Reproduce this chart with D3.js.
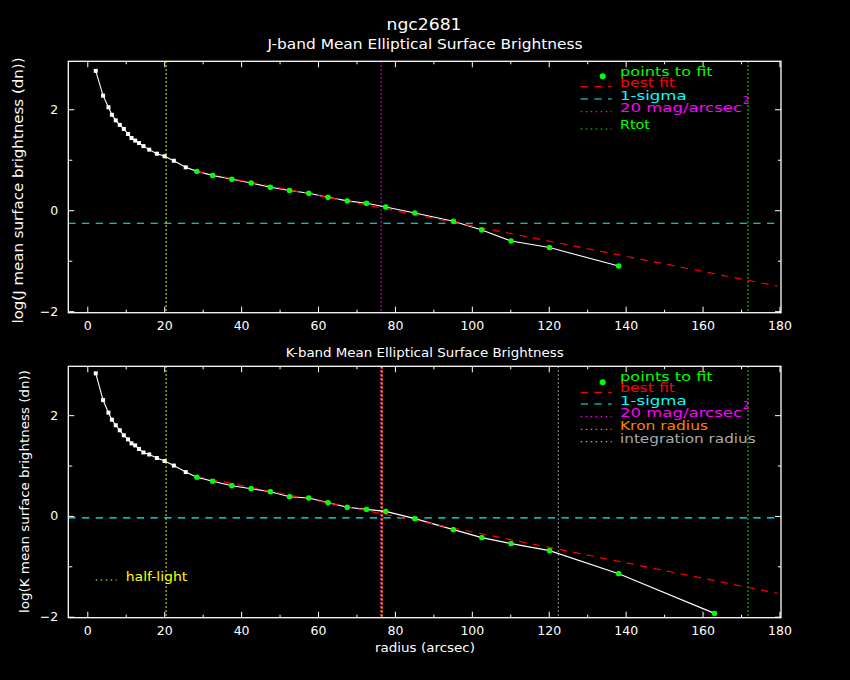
<!DOCTYPE html>
<html><head><meta charset="utf-8">
<script src="https://cdn.jsdelivr.net/npm/d3@7"></script>
<style>
body{margin:0;background:#000}
svg{display:block}
text{font-family:"DejaVu Sans",sans-serif}
</style>
</head><body>
<svg id="c" width="850" height="680"></svg>
<script>
// ---------------- data ----------------
const radius = [2.2, 4.1, 5.5, 6.4, 7.4, 8.45, 9.5, 10.6, 11.5, 12.45, 13.45, 14.6, 16.1, 18.1, 20.1, 22.5, 25.6,
  28.5, 32.6, 37.6, 42.6, 47.6, 52.6, 57.6, 62.6, 67.6, 72.6, 77.6, 85.2, 95.2, 102.6, 110.2, 120.2, 138.2, 163.1];
const jValues = [2.76, 2.27, 2.04, 1.89, 1.78, 1.69, 1.61, 1.51, 1.43, 1.38, 1.33, 1.27, 1.20, 1.12, 1.07, 0.98, 0.85,
  0.77, 0.69, 0.615, 0.54, 0.455, 0.39, 0.335, 0.258, 0.185, 0.139, 0.065, -0.054, -0.218, -0.39, -0.61, -0.74, -1.105];
const kValues = [2.83, 2.30, 2.05, 1.91, 1.80, 1.70, 1.60, 1.52, 1.44, 1.40, 1.33, 1.26, 1.22, 1.15, 1.09, 1.00, 0.87,
  0.77, 0.69, 0.60, 0.54, 0.48, 0.38, 0.357, 0.264, 0.171, 0.131, 0.091, -0.054, -0.272, -0.431, -0.55, -0.689, -1.146, -1.934];
const fitFromIndex = 17;

const jFitR = [28.5, 179.5];
const jFitV = [0.765, -1.505];
const kFitR = [28.5, 179.5];
const kFitV = [0.782, -1.535];

const jSigma = -0.258;
const kSigma = -0.04;

const jVLineR = [20.5, 76.4, 171.8];
const jVLineKind = ["half", "mag20", "rtot"];
const kVLineR = [20.5, 76.3, 76.6, 122.5, 171.8];
const kVLineKind = ["half", "mag20", "kron", "integ", "rtot"];

const xDomain = [-4.94, 180.4];
const jYDomain = [-2.03, 2.95];
const kYDomain = [-2.02, 2.97];
const xMajorTicks = [0, 20, 40, 60, 80, 100, 120, 140, 160, 180];
const xMinorTicks = [10, 30, 50, 70, 90, 110, 130, 150, 170];
const yMajorTicks = [-2, 0, 2];
const yMinorTicks = [-1, 1];

const title = "ngc2681";
const jTitle = "J-band Mean Elliptical Surface Brightness";
const kTitle = "K-band Mean Elliptical Surface Brightness";
const jYLabel = "log(J mean surface brightness (dn))";
const kYLabel = "log(K mean surface brightness (dn))";
const xLabel = "radius (arcsec)";

// ---------------- styles ----------------
const col = {
  half: "#ffff00", mag20: "#ff00ff", rtot: "#00ff00", kron: "#ff8000", integ: "#aaaaaa",
  fit: "#ff0000", sigma: "#00ffff", pts: "#00ff00", white: "#ffffff"
};
const vWidth = {half: 1.2, mag20: 1.2, rtot: 1.2, kron: 2, integ: 1.2};
const vDash = {half: "1.5,2.5", mag20: "1.5,2.5", rtot: "1.5,2.5", kron: "2.5,1.5", integ: "1.5,2.5"};
const DASH = "7.3,6.4";

const svg = d3.select("#c");
svg.append("rect").attr("width", 850).attr("height", 680).attr("fill", "#000");

function txt(x, y, s, o = {}) {
  const t = svg.append("text").attr("x", x).attr("y", y).text(s)
    .attr("fill", o.fill || "#fff").attr("font-size", o.size || 13);
  if (o.len) t.attr("textLength", o.len).attr("lengthAdjust", "spacingAndGlyphs");
  return t;
}
function ctxt(cx, y, s, len, o = {}) {
  return txt(cx - len / 2, y, s, Object.assign({len}, o));
}
function vtxt(bx, cy, s, len, o = {}) {
  return svg.append("text").attr("transform", `translate(${bx},${cy}) rotate(-90)`)
    .attr("x", -len / 2).attr("y", 0).text(s)
    .attr("fill", o.fill || "#fff").attr("font-size", o.size || 13)
    .attr("textLength", len).attr("lengthAdjust", "spacingAndGlyphs");
}

function panel(o) {
  const x = d3.scaleLinear().domain(xDomain).range([68.3, 781]);
  const y = d3.scaleLinear().domain(o.yDomain).range([o.bottom, o.top]);
  const g = svg.append("g");

  // vertical reference lines
  o.vR.forEach((r, i) => {
    const k = o.vKind[i];
    g.append("line").attr("x1", x(r)).attr("x2", x(r)).attr("y1", o.top).attr("y2", o.bottom)
      .attr("stroke", col[k]).attr("stroke-width", vWidth[k]).attr("stroke-dasharray", vDash[k]);
  });
  // 1-sigma
  g.append("line").attr("x1", x.range()[0]).attr("x2", x.range()[1])
    .attr("y1", y(o.sigma)).attr("y2", y(o.sigma))
    .attr("stroke", col.sigma).attr("stroke-width", 1.2).attr("stroke-dasharray", DASH);

  const line = d3.line().x(d => x(d[0])).y(d => y(d[1]));
  const pts = d3.zip(radius.slice(0, o.v.length), o.v);
  g.append("path").datum(pts).attr("d", line).attr("fill", "none").attr("stroke", col.white).attr("stroke-width", 1.1);
  g.append("path").datum(d3.zip(o.fitR, o.fitV)).attr("d", line).attr("fill", "none")
    .attr("stroke", col.fit).attr("stroke-width", 1.2).attr("stroke-dasharray", DASH);

  g.selectAll("rect.pt").data(pts).join("rect").attr("class", "pt")
    .attr("x", d => x(d[0]) - 2).attr("y", d => y(d[1]) - 2).attr("width", 4).attr("height", 4)
    .attr("fill", col.white);
  g.selectAll("circle.fp").data(pts.slice(fitFromIndex)).join("circle").attr("class", "fp")
    .attr("cx", d => x(d[0])).attr("cy", d => y(d[1])).attr("r", 2.7).attr("fill", col.pts);

  // axes
  const style = s => s.attr("color", "#fff").attr("font-size", 12.5).attr("font-family", "DejaVu Sans")
    .call(a => a.select(".domain").remove());
  g.append("g").attr("transform", `translate(0,${o.bottom})`)
    .call(d3.axisBottom(x).tickValues(xMajorTicks).tickSize(-6).tickPadding(8).tickFormat(d3.format("d"))).call(style);
  g.append("g").attr("transform", `translate(0,${o.bottom})`)
    .call(d3.axisBottom(x).tickValues(xMinorTicks).tickSize(-3).tickFormat("")).call(style);
  g.append("g").attr("transform", `translate(0,${o.top})`)
    .call(d3.axisTop(x).tickValues(xMajorTicks).tickSize(-6).tickFormat("")).call(style);
  g.append("g").attr("transform", `translate(0,${o.top})`)
    .call(d3.axisTop(x).tickValues(xMinorTicks).tickSize(-3).tickFormat("")).call(style);
  g.append("g").attr("transform", `translate(68.3,0)`)
    .call(d3.axisLeft(y).tickValues(yMajorTicks).tickSize(-6).tickPadding(10).tickFormat(d3.format("d"))).call(style);
  g.append("g").attr("transform", `translate(68.3,0)`)
    .call(d3.axisLeft(y).tickValues(yMinorTicks).tickSize(-4).tickFormat("")).call(style);
  g.append("g").attr("transform", `translate(781,0)`)
    .call(d3.axisRight(y).tickValues(yMajorTicks).tickSize(-6).tickFormat("")).call(style);
  g.append("g").attr("transform", `translate(781,0)`)
    .call(d3.axisRight(y).tickValues(yMinorTicks).tickSize(-3).tickFormat("")).call(style);

  g.append("rect").attr("x", 68.3).attr("y", o.top).attr("width", 781 - 68.3).attr("height", o.bottom - o.top)
    .attr("fill", "none").attr("stroke", "#fff").attr("stroke-width", 1.3);
}

panel({yDomain: jYDomain, top: 61.3, bottom: 312.7, v: jValues, fitR: jFitR, fitV: jFitV,
  sigma: jSigma, vR: jVLineR, vKind: jVLineKind});
panel({yDomain: kYDomain, top: 366.3, bottom: 617.7, v: kValues, fitR: kFitR, fitV: kFitV,
  sigma: kSigma, vR: kVLineR, vKind: kVLineKind});

// titles & labels
ctxt(424, 29.5, title, 75, {size: 16});
ctxt(425, 48.8, jTitle, 315, {size: 13.5});
ctxt(424.7, 356.5, kTitle, 278, {size: 12});
vtxt(22.7, 190.5, jYLabel, 266, {size: 14});
vtxt(28.8, 491.5, kYLabel, 243, {size: 12.5});
ctxt(425, 651.5, xLabel, 100, {size: 13});

// legends
function sample(x1, x2, yy, color, dash) {
  svg.append("line").attr("x1", x1).attr("x2", x2).attr("y1", yy).attr("y2", yy)
    .attr("stroke", color).attr("stroke-width", 1.2).attr("stroke-dasharray", dash);
}
function legend(rows, dotY) {
  svg.append("circle").attr("cx", 602.7).attr("cy", dotY).attr("r", 3).attr("fill", col.pts);
  rows.forEach(r => {
    if (r.dash) sample(580.7, 611.7, r.ly, r.color, r.dash);
    txt(620, r.ty, r.label, {fill: r.color, len: r.len, size: 13});
    if (r.sup) txt(742.7, r.ty - 7.4, r.sup, {fill: r.color, len: 6.6, size: 10});
  });
}
legend([
  {label: "points to fit", color: col.pts, ty: 76, len: 92.7},
  {label: "best fit", color: col.fit, ty: 87.3, ly: 86.7, dash: DASH, len: 55},
  {label: "1-sigma", color: col.sigma, ty: 100, ly: 99, dash: DASH, len: 66.7},
  {label: "20 mag/arcsec", sup: "2", color: col.mag20, ty: 111.7, ly: 111.7, dash: "1.5,3.5", len: 122},
  {label: "Rtot", color: col.rtot, ty: 129, ly: 129, dash: "1.5,3.5", len: 30}
], 76.3);
legend([
  {label: "points to fit", color: col.pts, ty: 381, len: 92.7},
  {label: "best fit", color: col.fit, ty: 392.3, ly: 392.3, dash: DASH, len: 55},
  {label: "1-sigma", color: col.sigma, ty: 405, ly: 404, dash: DASH, len: 66.7},
  {label: "20 mag/arcsec", sup: "2", color: col.mag20, ty: 416.7, ly: 416.7, dash: "1.5,3.5", len: 122},
  {label: "Kron radius", color: col.kron, ty: 430, ly: 429.3, dash: "1.5,3.5", len: 88},
  {label: "integration radius", color: col.integ, ty: 443.3, ly: 441.7, dash: "1.5,3.5", len: 135.7}
], 382.3);

sample(95.7, 116.7, 580, col.half, "1.5,3.5");
txt(125.7, 580.5, "half-light", {fill: col.half, len: 61.6, size: 13});
</script>
</body></html>
